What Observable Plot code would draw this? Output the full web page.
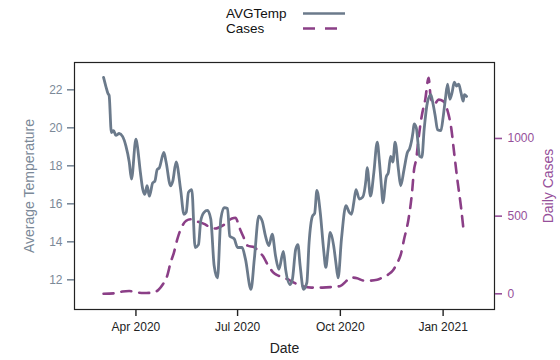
<!DOCTYPE html>
<html>
<head>
<meta charset="utf-8">
<script src="https://cdn.jsdelivr.net/npm/d3@7"></script>
<script src="https://cdn.jsdelivr.net/npm/@observablehq/plot@0.6"></script>
<style>
  html, body { margin: 0; padding: 0; background: #fff; }
  #wrap { position: relative; width: 560px; height: 360px; font-family: "Liberation Sans", Arial, Helvetica, sans-serif; }
  #legend { position: absolute; left: 0; top: 0; }
</style>
</head>
<body>
<div id="wrap">
  <div id="chart"></div>
  <svg id="legend" width="560" height="40"></svg>
</div>
<script>
// Daily average temperature (°C)
const tempDates = [
  "2020-03-03","2020-03-05","2020-03-07","2020-03-08","2020-03-10","2020-03-12","2020-03-14","2020-03-17",
  "2020-03-20","2020-03-23","2020-03-26","2020-03-28","2020-04-01","2020-04-02","2020-04-05","2020-04-07",
  "2020-04-09","2020-04-11","2020-04-13","2020-04-16","2020-04-18","2020-04-20","2020-04-22","2020-04-26",
  "2020-04-28","2020-05-02","2020-05-04","2020-05-07","2020-05-11","2020-05-14","2020-05-16","2020-05-18",
  "2020-05-21","2020-05-24","2020-05-27","2020-05-29","2020-06-01","2020-06-04","2020-06-07","2020-06-10",
  "2020-06-13","2020-06-16","2020-06-19","2020-06-22","2020-06-24","2020-06-28","2020-07-01","2020-07-05",
  "2020-07-08","2020-07-13","2020-07-16","2020-07-20","2020-07-23","2020-07-26","2020-07-29","2020-08-01",
  "2020-08-04","2020-08-07","2020-08-11","2020-08-13","2020-08-17","2020-08-19","2020-08-22","2020-08-24",
  "2020-08-26","2020-08-29","2020-09-01","2020-09-03","2020-09-06","2020-09-08","2020-09-10","2020-09-13",
  "2020-09-16","2020-09-18","2020-09-20","2020-09-22","2020-09-25","2020-09-27","2020-09-29","2020-10-02",
  "2020-10-06","2020-10-09","2020-10-11","2020-10-13","2020-10-15","2020-10-18","2020-10-21","2020-10-24",
  "2020-10-25","2020-10-28","2020-10-31","2020-11-03","2020-11-05","2020-11-07","2020-11-08","2020-11-11",
  "2020-11-13","2020-11-15","2020-11-17","2020-11-19","2020-11-22","2020-11-24","2020-11-27","2020-11-30",
  "2020-12-02","2020-12-05","2020-12-06","2020-12-08","2020-12-11","2020-12-13","2020-12-15","2020-12-18",
  "2020-12-21","2020-12-23","2020-12-25","2020-12-27","2020-12-30","2021-01-01","2021-01-03","2021-01-05",
  "2021-01-07","2021-01-09","2021-01-11","2021-01-13","2021-01-15","2021-01-17","2021-01-19","2021-01-20",
  "2021-01-22"
];
const avgTemp = [
  22.65,22.2,21.8,21.7,19.75,19.85,19.6,19.7,
  19.55,19.05,18.2,17.3,19.4,19.15,17.65,16.8,
  16.5,16.95,16.4,17.1,17.2,17.8,17.9,18.7,
  18.2,16.95,17.2,18.2,16.75,15.45,15.55,16.6,
  16.75,13.7,13.85,15.1,15.55,15.65,15.2,12.75,
  12.1,15.2,15.8,15.75,14.3,14.15,13.7,13.7,
  13.1,11.5,13.1,15.35,15.1,14.3,13.8,14.4,
  13.25,12.55,13.5,12.55,11.75,12.0,13.6,13.85,
  12.75,11.5,11.85,13.95,15.35,15.5,16.7,15.55,
  13.6,12.65,13.6,14.5,13.8,12.9,12.1,14.15,
  15.9,15.55,15.45,16.05,16.75,16.25,16.35,17.3,
  17.9,16.4,17.65,19.25,18.2,16.75,16.05,17.4,
  17.65,18.5,18.2,19.25,17.8,16.95,17.8,18.7,
  18.9,19.75,20.2,20.0,18.5,18.45,19.9,21.35,
  21.75,21.25,20.6,19.9,19.85,20.55,21.5,22.3,
  21.5,21.85,22.4,22.2,22.3,21.85,21.4,21.75,
  21.65
];

// Daily new cases
const caseDates = [
  "2020-03-03","2020-03-12","2020-03-20","2020-03-26","2020-04-01","2020-04-08","2020-04-16","2020-04-21",
  "2020-04-25","2020-04-29","2020-05-02","2020-05-05","2020-05-08","2020-05-12","2020-05-16","2020-05-20",
  "2020-05-26","2020-06-01","2020-06-06","2020-06-11","2020-06-15","2020-06-19","2020-06-26","2020-06-29",
  "2020-07-03","2020-07-06","2020-07-10","2020-07-16","2020-07-20","2020-07-24","2020-07-27","2020-08-03",
  "2020-08-07","2020-08-16","2020-08-21","2020-08-28","2020-09-05","2020-09-15","2020-09-25","2020-10-01",
  "2020-10-06","2020-10-10","2020-10-16","2020-10-22","2020-10-28","2020-11-03","2020-11-09","2020-11-13",
  "2020-11-17","2020-11-21","2020-11-24","2020-11-27","2020-12-01","2020-12-04","2020-12-06","2020-12-08",
  "2020-12-10","2020-12-13","2020-12-16","2020-12-19","2020-12-21","2020-12-24","2020-12-28","2021-01-01",
  "2021-01-04","2021-01-06","2021-01-08","2021-01-11","2021-01-14","2021-01-17","2021-01-19"
];
const dailyCases = [
  0,3,15,18,10,5,8,25,
  60,116,200,265,350,430,470,480,
  465,450,430,420,430,445,485,490,
  420,370,310,300,270,240,200,130,
  115,90,70,50,40,40,45,50,
  80,105,100,85,85,90,110,125,
  150,200,250,350,480,640,800,870,
  1000,1150,1250,1390,1260,1220,1250,1240,
  1200,1150,1080,900,720,560,430
];

// Axis tick values
const caseTicks = [0, 500, 1000];
const tempTicks = [12, 14, 16, 18, 20, 22];
const monthTicks = ["2020-04-01", "2020-07-01", "2020-10-01", "2021-01-01"];

const tempColor = "#6b7a8b";
const tempText = "#7b8998";
const caseColor = "#8b3f87";
const caseText = "#96509a";

const temps = tempDates.map((d, i) => ({date: new Date(d), temp: avgTemp[i]}));
const cases = caseDates.map((d, i) => ({date: new Date(d), cases: dailyCases[i]}));

// Cases share the plot area with temperature: map them onto the temperature scale
const yDomain = [10.437, 23.437];
const caseToTemp = d3.scaleLinear().domain([-101, 1489]).range(yDomain);

const chart = Plot.plot({
  width: 560,
  height: 360,
  marginLeft: 74,
  marginRight: 66,
  marginTop: 62,
  marginBottom: 51,
  style: {fontFamily: "'Liberation Sans', Arial, Helvetica, sans-serif", fontSize: "12px", background: "#fff"},
  x: {type: "utc", domain: [new Date("2020-02-06"), new Date("2021-02-16")], axis: null},
  y: {domain: yDomain, axis: null},
  marks: [
    Plot.line(cases, {x: "date", y: d => caseToTemp(d.cases), stroke: caseColor, strokeWidth: 2.6,
      strokeDasharray: "10,8", curve: "monotone-x"}),
    Plot.line(temps, {x: "date", y: "temp", stroke: tempColor, strokeWidth: 2.8, curve: "monotone-x"}),
    Plot.frame({stroke: "#222", strokeWidth: 1.2}),
    Plot.axisX(monthTicks.map(d => new Date(d)), {
      anchor: "bottom", tickSize: 7, tickPadding: 6, strokeWidth: 1.4, color: "#222",
      tickFormat: d3.utcFormat("%b %Y"), label: null
    }),
    Plot.axisY(tempTicks, {
      anchor: "left", tickSize: 7, tickPadding: 5, strokeWidth: 1.6, color: tempText, label: null
    }),
    Plot.axisY(caseTicks.map(caseToTemp), {
      anchor: "right", tickSize: 7, tickPadding: 6, strokeWidth: 1.6, color: caseText, label: null,
      tickFormat: d => String(Math.round(caseToTemp.invert(d)))
    }),
    Plot.text(["Date"], {frameAnchor: "bottom", dy: 43, fontSize: 14, fill: "#222"}),
    Plot.text(["Average Temperature"], {frameAnchor: "left", dx: -45, rotate: -90, textAnchor: "middle",
      fontSize: 14, fill: tempText}),
    Plot.text(["Daily Cases"], {frameAnchor: "right", dx: 54, rotate: -90, textAnchor: "middle",
      fontSize: 14, fill: caseText})
  ]
});
document.getElementById("chart").appendChild(chart);

// Legend above the plot
const legend = d3.select("#legend");
const entries = [
  {label: "AVGTemp", color: tempColor, dash: null, y: 13.5},
  {label: "Cases", color: caseColor, dash: "12,10", y: 28.5}
];
for (const e of entries) {
  legend.append("text").attr("x", 226).attr("y", e.y).attr("dy", "0.36em")
    .attr("font-size", 13.5).attr("fill", "#111")
    .attr("font-family", "'Liberation Sans', Arial, Helvetica, sans-serif").text(e.label);
  legend.append("line").attr("x1", 303).attr("x2", 345).attr("y1", e.y).attr("y2", e.y)
    .attr("stroke", e.color).attr("stroke-width", 2.6)
    .attr("stroke-dasharray", e.dash);
}
</script>
</body>
</html>
